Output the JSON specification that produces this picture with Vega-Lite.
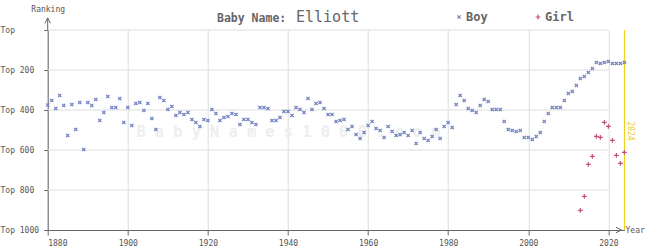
{
  "$schema": "https://vega.github.io/schema/vega-lite/v6.json",
  "width": 576.7,
  "height": 200,
  "autosize": {"type": "none"},
  "padding": {"left": 47.7, "top": 30, "right": 20.6, "bottom": 20},
  "background": "white",
  "config": {
    "view": {"stroke": null},
    "font": "DejaVu Sans Mono",
    "axisX": {
      "format": "d",
      "grid": true, "gridColor": "#dddddd", "gridWidth": 1,
      "domainColor": "#666666", "domainWidth": 1,
      "tickColor": "#666666", "tickSize": 5,
      "labelFont": "DejaVu Sans Mono", "labelFontSize": 8, "labelColor": "#555555", "labelPadding": 4,
      "titleFont": "DejaVu Sans Mono", "titleFontSize": 8, "titleFontWeight": "normal", "titleColor": "#555555",
      "titleX": 577.3, "titleY": 0, "titleAlign": "left", "titleBaseline": "middle", "titleAngle": 0
    },
    "axisY": {
      "grid": false,
      "domainColor": "#666666", "domainWidth": 1,
      "tickColor": "#666666", "tickSize": 4,
      "labelFont": "DejaVu Sans Mono", "labelFontSize": 8, "labelColor": "#555555",
      "labelAlign": "left", "labelBaseline": "middle", "labelPadding": 43.7,
      "titleFont": "DejaVu Sans Mono", "titleFontSize": 8, "titleFontWeight": "normal", "titleColor": "#555555",
      "titleX": 0, "titleY": -21, "titleAlign": "center", "titleBaseline": "middle", "titleAngle": 0
    }
  },
  "title": {
    "text": "Baby Name:",
    "anchor": "start",
    "frame": "group",
    "orient": "top",
    "dx": 169.3,
    "offset": -19,
    "font": "DejaVu Sans Mono",
    "fontSize": 11.5,
    "fontWeight": "bold",
    "color": "#666666"
  },
  "layer": [
    {
      "data": {"values": [{"g": 0}, {"g": 200}, {"g": 400}, {"g": 600}, {"g": 800}]},
      "mark": {"type": "rule", "color": "#dddddd", "strokeWidth": 1},
      "encoding": {
        "y": {"field": "g", "type": "quantitative",
          "scale": {"domain": [0, 1000], "reverse": true, "nice": false, "zero": false},
          "axis": {"values": [0, 200, 400, 600, 800, 1000], "labelExpr": "datum.value == 0 ? 'Top' : 'Top ' + datum.value", "title": "Ranking"}},
        "x": {"datum": 1880, "type": "quantitative",
          "scale": {"domain": [1880, 2024], "nice": false, "zero": false},
          "axis": {"values": [1880, 1900, 1920, 1940, 1960, 1980, 2000, 2020], "title": "Year"}},
        "x2": {"datum": 2020}
      }
    },
    {
      "data": {"values": [{"w": "B a b y N a m e s 1 0 0 0 . c o m"}]},
      "mark": {"type": "text", "font": "DejaVu Sans Mono", "fontSize": 15.3, "fontWeight": "bold", "color": "#eeeeee", "align": "center", "baseline": "middle"},
      "encoding": {
        "text": {"field": "w"},
        "x": {"datum": 1940.1, "type": "quantitative",
          "axis": {"values": [1880, 1900, 1920, 1940, 1960, 1980, 2000, 2020], "title": "Year"}},
        "y": {"datum": 510, "type": "quantitative",
          "axis": {"values": [0, 200, 400, 600, 800, 1000], "labelExpr": "datum.value == 0 ? 'Top' : 'Top ' + datum.value", "title": "Ranking"}}
      }
    },
    {
      "data": {"values": [{"n": "Elliott"}]},
      "mark": {"type": "text", "font": "DejaVu Sans Mono", "fontSize": 15, "color": "#666666", "align": "left", "baseline": "alphabetic"},
      "encoding": {
        "text": {"field": "n"},
        "x": {"datum": 1942.0, "type": "quantitative",
          "axis": {"values": [1880, 1900, 1920, 1940, 1960, 1980, 2000, 2020], "title": "Year"}},
        "y": {"datum": -40, "type": "quantitative",
          "axis": {"values": [0, 200, 400, 600, 800, 1000], "labelExpr": "datum.value == 0 ? 'Top' : 'Top ' + datum.value", "title": "Ranking"}}
      }
    },
    {
      "data": {"values": [{"yr": 2024}]},
      "mark": {"type": "rule", "color": "#f0cc00", "strokeWidth": 1},
      "encoding": {
        "x": {"field": "yr", "type": "quantitative",
          "axis": {"values": [1880, 1900, 1920, 1940, 1960, 1980, 2000, 2020], "title": "Year"}},
        "y": {"datum": 0, "type": "quantitative",
          "axis": {"values": [0, 200, 400, 600, 800, 1000], "labelExpr": "datum.value == 0 ? 'Top' : 'Top ' + datum.value", "title": "Ranking"}},
        "y2": {"datum": 1000}
      }
    },
    {
      "data": {"values": [{"yr": 2024, "lab": "2024"}]},
      "mark": {"type": "text", "font": "DejaVu Sans Mono", "fontSize": 8, "color": "#f0cc00", "angle": 90, "align": "center", "baseline": "bottom", "dy": -2},
      "encoding": {
        "text": {"field": "lab"},
        "x": {"field": "yr", "type": "quantitative",
          "axis": {"values": [1880, 1900, 1920, 1940, 1960, 1980, 2000, 2020], "title": "Year"}},
        "y": {"datum": 505, "type": "quantitative",
          "axis": {"values": [0, 200, 400, 600, 800, 1000], "labelExpr": "datum.value == 0 ? 'Top' : 'Top ' + datum.value", "title": "Ranking"}}
      }
    },
    {
      "data": {"values": [{"a": 0}]},
      "mark": {"type": "rule", "color": "#666666", "strokeWidth": 1},
      "encoding": {
        "x": {"datum": 1880, "type": "quantitative",
          "axis": {"values": [1880, 1900, 1920, 1940, 1960, 1980, 2000, 2020], "title": "Year"}},
        "y": {"datum": 0, "type": "quantitative",
          "axis": {"values": [0, 200, 400, 600, 800, 1000], "labelExpr": "datum.value == 0 ? 'Top' : 'Top ' + datum.value", "title": "Ranking"}},
        "y2": {"datum": -60}
      }
    },
    {
      "data": {"values": [{"a": 0}]},
      "mark": {"type": "point", "shape": "M-1,1L0,-1L1,1", "filled": false, "size": 30, "stroke": "#666666", "strokeWidth": 1, "opacity": 1},
      "encoding": {
        "x": {"datum": 1880, "type": "quantitative",
          "axis": {"values": [1880, 1900, 1920, 1940, 1960, 1980, 2000, 2020], "title": "Year"}},
        "y": {"datum": -47, "type": "quantitative",
          "axis": {"values": [0, 200, 400, 600, 800, 1000], "labelExpr": "datum.value == 0 ? 'Top' : 'Top ' + datum.value", "title": "Ranking"}}
      }
    },
    {
      "data": {"values": [{"a": 0}]},
      "mark": {"type": "point", "shape": "M-1,-1L1,0L-1,1", "filled": false, "size": 30, "stroke": "#666666", "strokeWidth": 1, "opacity": 1},
      "encoding": {
        "x": {"datum": 2022.6, "type": "quantitative",
          "axis": {"values": [1880, 1900, 1920, 1940, 1960, 1980, 2000, 2020], "title": "Year"}},
        "y": {"datum": 1000, "type": "quantitative",
          "axis": {"values": [0, 200, 400, 600, 800, 1000], "labelExpr": "datum.value == 0 ? 'Top' : 'Top ' + datum.value", "title": "Ranking"}}
      }
    },
    {
      "data": {"values": [
        {"year":1880,"rank":375,"sex":"Boy"},{"year":1881,"rank":352,"sex":"Boy"},{"year":1882,"rank":393,"sex":"Boy"},{"year":1883,"rank":327,"sex":"Boy"},{"year":1884,"rank":377,"sex":"Boy"},
        {"year":1885,"rank":527,"sex":"Boy"},{"year":1886,"rank":372,"sex":"Boy"},{"year":1887,"rank":497,"sex":"Boy"},{"year":1888,"rank":362,"sex":"Boy"},{"year":1889,"rank":597,"sex":"Boy"},
        {"year":1890,"rank":362,"sex":"Boy"},{"year":1891,"rank":377,"sex":"Boy"},{"year":1892,"rank":347,"sex":"Boy"},{"year":1893,"rank":452,"sex":"Boy"},{"year":1894,"rank":412,"sex":"Boy"},
        {"year":1895,"rank":332,"sex":"Boy"},{"year":1896,"rank":387,"sex":"Boy"},{"year":1897,"rank":387,"sex":"Boy"},{"year":1898,"rank":342,"sex":"Boy"},{"year":1899,"rank":462,"sex":"Boy"},
        {"year":1900,"rank":387,"sex":"Boy"},{"year":1901,"rank":477,"sex":"Boy"},{"year":1902,"rank":367,"sex":"Boy"},{"year":1903,"rank":362,"sex":"Boy"},{"year":1904,"rank":402,"sex":"Boy"},
        {"year":1905,"rank":367,"sex":"Boy"},{"year":1906,"rank":442,"sex":"Boy"},{"year":1907,"rank":497,"sex":"Boy"},{"year":1908,"rank":337,"sex":"Boy"},{"year":1909,"rank":352,"sex":"Boy"},
        {"year":1910,"rank":397,"sex":"Boy"},{"year":1911,"rank":382,"sex":"Boy"},{"year":1912,"rank":427,"sex":"Boy"},{"year":1913,"rank":412,"sex":"Boy"},{"year":1914,"rank":422,"sex":"Boy"},
        {"year":1915,"rank":412,"sex":"Boy"},{"year":1916,"rank":447,"sex":"Boy"},{"year":1917,"rank":462,"sex":"Boy"},{"year":1918,"rank":482,"sex":"Boy"},{"year":1919,"rank":447,"sex":"Boy"},
        {"year":1920,"rank":452,"sex":"Boy"},{"year":1921,"rank":397,"sex":"Boy"},{"year":1922,"rank":417,"sex":"Boy"},{"year":1923,"rank":452,"sex":"Boy"},{"year":1924,"rank":437,"sex":"Boy"},
        {"year":1925,"rank":432,"sex":"Boy"},{"year":1926,"rank":417,"sex":"Boy"},{"year":1927,"rank":422,"sex":"Boy"},{"year":1928,"rank":472,"sex":"Boy"},{"year":1929,"rank":447,"sex":"Boy"},
        {"year":1930,"rank":447,"sex":"Boy"},{"year":1931,"rank":462,"sex":"Boy"},{"year":1932,"rank":472,"sex":"Boy"},{"year":1933,"rank":387,"sex":"Boy"},{"year":1934,"rank":387,"sex":"Boy"},
        {"year":1935,"rank":392,"sex":"Boy"},{"year":1936,"rank":452,"sex":"Boy"},{"year":1937,"rank":452,"sex":"Boy"},{"year":1938,"rank":437,"sex":"Boy"},{"year":1939,"rank":407,"sex":"Boy"},
        {"year":1940,"rank":407,"sex":"Boy"},{"year":1941,"rank":427,"sex":"Boy"},{"year":1942,"rank":387,"sex":"Boy"},{"year":1943,"rank":397,"sex":"Boy"},{"year":1944,"rank":412,"sex":"Boy"},
        {"year":1945,"rank":342,"sex":"Boy"},{"year":1946,"rank":397,"sex":"Boy"},{"year":1947,"rank":367,"sex":"Boy"},{"year":1948,"rank":362,"sex":"Boy"},{"year":1949,"rank":392,"sex":"Boy"},
        {"year":1950,"rank":422,"sex":"Boy"},{"year":1951,"rank":422,"sex":"Boy"},{"year":1952,"rank":457,"sex":"Boy"},{"year":1953,"rank":452,"sex":"Boy"},{"year":1954,"rank":447,"sex":"Boy"},
        {"year":1955,"rank":497,"sex":"Boy"},{"year":1956,"rank":482,"sex":"Boy"},{"year":1957,"rank":522,"sex":"Boy"},{"year":1958,"rank":542,"sex":"Boy"},{"year":1959,"rank":512,"sex":"Boy"},
        {"year":1960,"rank":477,"sex":"Boy"},{"year":1961,"rank":457,"sex":"Boy"},{"year":1962,"rank":492,"sex":"Boy"},{"year":1963,"rank":502,"sex":"Boy"},{"year":1964,"rank":537,"sex":"Boy"},
        {"year":1965,"rank":482,"sex":"Boy"},{"year":1966,"rank":507,"sex":"Boy"},{"year":1967,"rank":527,"sex":"Boy"},{"year":1968,"rank":522,"sex":"Boy"},{"year":1969,"rank":512,"sex":"Boy"},
        {"year":1970,"rank":527,"sex":"Boy"},{"year":1971,"rank":502,"sex":"Boy"},{"year":1972,"rank":567,"sex":"Boy"},{"year":1973,"rank":512,"sex":"Boy"},{"year":1974,"rank":542,"sex":"Boy"},
        {"year":1975,"rank":552,"sex":"Boy"},{"year":1976,"rank":532,"sex":"Boy"},{"year":1977,"rank":497,"sex":"Boy"},{"year":1978,"rank":542,"sex":"Boy"},{"year":1979,"rank":482,"sex":"Boy"},
        {"year":1980,"rank":462,"sex":"Boy"},{"year":1981,"rank":487,"sex":"Boy"},{"year":1982,"rank":372,"sex":"Boy"},{"year":1983,"rank":327,"sex":"Boy"},{"year":1984,"rank":352,"sex":"Boy"},
        {"year":1985,"rank":392,"sex":"Boy"},{"year":1986,"rank":402,"sex":"Boy"},{"year":1987,"rank":412,"sex":"Boy"},{"year":1988,"rank":377,"sex":"Boy"},{"year":1989,"rank":347,"sex":"Boy"},
        {"year":1990,"rank":357,"sex":"Boy"},{"year":1991,"rank":397,"sex":"Boy"},{"year":1992,"rank":397,"sex":"Boy"},{"year":1993,"rank":397,"sex":"Boy"},{"year":1994,"rank":457,"sex":"Boy"},
        {"year":1995,"rank":497,"sex":"Boy"},{"year":1996,"rank":502,"sex":"Boy"},{"year":1997,"rank":507,"sex":"Boy"},{"year":1998,"rank":502,"sex":"Boy"},{"year":1999,"rank":537,"sex":"Boy"},
        {"year":2000,"rank":537,"sex":"Boy"},{"year":2001,"rank":547,"sex":"Boy"},{"year":2002,"rank":532,"sex":"Boy"},{"year":2003,"rank":512,"sex":"Boy"},{"year":2004,"rank":457,"sex":"Boy"},
        {"year":2005,"rank":417,"sex":"Boy"},{"year":2006,"rank":387,"sex":"Boy"},{"year":2007,"rank":387,"sex":"Boy"},{"year":2008,"rank":387,"sex":"Boy"},{"year":2009,"rank":352,"sex":"Boy"},
        {"year":2010,"rank":317,"sex":"Boy"},{"year":2011,"rank":307,"sex":"Boy"},{"year":2012,"rank":277,"sex":"Boy"},{"year":2013,"rank":242,"sex":"Boy"},{"year":2014,"rank":232,"sex":"Boy"},
        {"year":2015,"rank":212,"sex":"Boy"},{"year":2016,"rank":192,"sex":"Boy"},{"year":2017,"rank":162,"sex":"Boy"},{"year":2018,"rank":167,"sex":"Boy"},{"year":2019,"rank":162,"sex":"Boy"},
        {"year":2020,"rank":157,"sex":"Boy"},{"year":2021,"rank":167,"sex":"Boy"},{"year":2022,"rank":167,"sex":"Boy"},{"year":2023,"rank":167,"sex":"Boy"},{"year":2024,"rank":162,"sex":"Boy"},
        {"year":2013,"rank":902,"sex":"Girl"},{"year":2014,"rank":832,"sex":"Girl"},{"year":2015,"rank":672,"sex":"Girl"},{"year":2016,"rank":632,"sex":"Girl"},{"year":2017,"rank":532,"sex":"Girl"},
        {"year":2018,"rank":537,"sex":"Girl"},{"year":2019,"rank":462,"sex":"Girl"},{"year":2020,"rank":482,"sex":"Girl"},{"year":2021,"rank":552,"sex":"Girl"},{"year":2022,"rank":627,"sex":"Girl"},
        {"year":2023,"rank":667,"sex":"Girl"},{"year":2024,"rank":612,"sex":"Girl"}
      ]},
      "mark": {"type": "point", "filled": false, "size": 16, "strokeWidth": 1.2, "opacity": 1},
      "encoding": {
        "x": {"field": "year", "type": "quantitative",
          "axis": {"values": [1880, 1900, 1920, 1940, 1960, 1980, 2000, 2020], "title": "Year"}},
        "y": {"field": "rank", "type": "quantitative",
          "axis": {"values": [0, 200, 400, 600, 800, 1000], "labelExpr": "datum.value == 0 ? 'Top' : 'Top ' + datum.value", "title": "Ranking"}},
        "color": {
          "field": "sex", "type": "nominal",
          "scale": {"domain": ["Boy", "Girl"], "range": ["#7080c0", "#c05080"]},
          "legend": {
            "title": null, "orient": "none", "direction": "horizontal",
            "legendX": 405.3, "legendY": -19, "padding": 0,
            "labelFont": "DejaVu Sans Mono", "labelFontSize": 12, "labelFontWeight": "bold", "labelColor": "#666666",
            "labelOffset": 1, "columnPadding": 44, "symbolSize": 16, "symbolStrokeWidth": 1.2
          }
        },
        "shape": {
          "field": "sex", "type": "nominal",
          "scale": {"domain": ["Boy", "Girl"], "range": ["M-0.8,-0.8L0.8,0.8M0.8,-0.8L-0.8,0.8", "M-1.2,0L1.2,0M0,-1.2L0,1.2"]}
        }
      }
    }
  ]
}
